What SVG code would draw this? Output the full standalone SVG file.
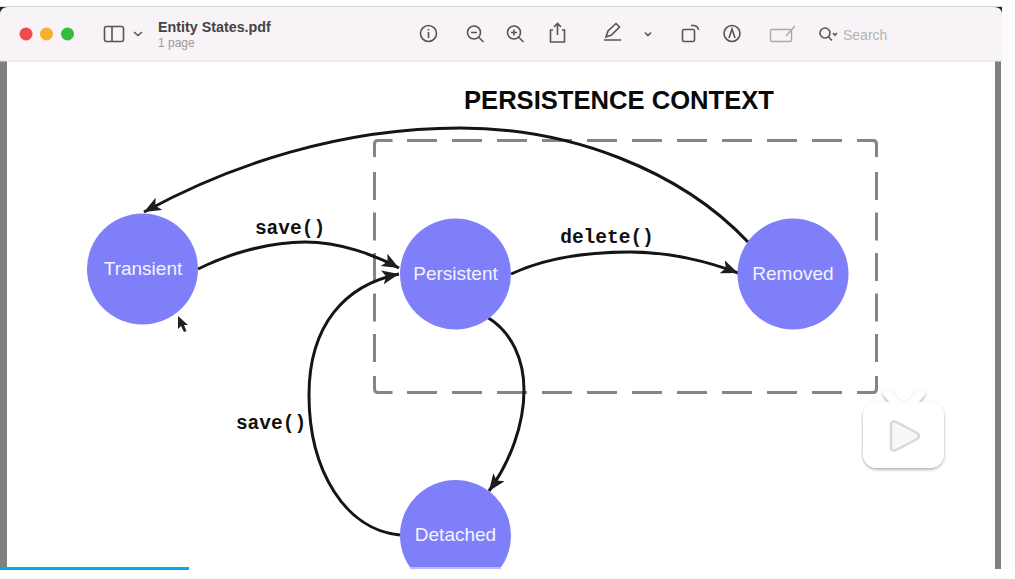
<svg xmlns="http://www.w3.org/2000/svg" width="1015" height="579" viewBox="0 0 1015 579">
<style>
.node{fill:#7f7ffa}
.nl{font:19px "Liberation Sans",Arial,sans-serif;fill:#f4f4ff;text-anchor:middle}
.el{font:bold 19.5px "Liberation Mono","Courier New",monospace;fill:#111;text-anchor:middle}
.c{fill:none;stroke:#151515;stroke-width:3}
.ic{fill:none;stroke:#555;stroke-width:1.6}
.d{fill:none;stroke:#858585;stroke-width:3}
</style>
<defs>
<marker id="a" markerUnits="userSpaceOnUse" markerWidth="20" markerHeight="16" refX="17" refY="7" orient="auto"><path d="M0 0L17 7L0 14L4 7Z" fill="#1e1e1e"/></marker>
<filter id="s" x="-20%" y="-20%" width="140%" height="140%"><feDropShadow dx="0" dy="1.500" stdDeviation="1.500" flood-color="#000" flood-opacity=".35"/></filter>
</defs>
<rect width="1015" height="579" fill="#fff"/>
<rect x="0" y="60" width="7" height="509" fill="#808080"/>
<rect x="995" y="60" width="6" height="509" fill="#808080"/>
<rect x="1001" y="0" width="14" height="579" fill="#fbfbfb"/>
<g id="toolbar">
<path d="M0 6.500H1002" stroke="#d8d8d8"/>
<path d="M0 7H8L0 15ZM1002 7H994L1002 15Z" fill="#222"/>
<path d="M0 15Q0 7 8 7H994Q1002 7 1002 15V61H0Z" fill="#f7f3f6"/>
<path d="M0 61H1002" stroke="#e4e0e3"/>
<circle cx="26" cy="34" r="6.500" fill="#ee4b4b"/><circle cx="46.500" cy="34" r="6.500" fill="#f7b02c"/><circle cx="67.500" cy="34" r="6.500" fill="#33bd3f"/>
<rect x="104.500" y="26.500" width="19" height="15" rx="2" class="ic"/><path class="ic" d="M112 27V41M134 32l4 3.500 4-3.500"/>
<text x="158" y="32" font-family="Liberation Sans,Arial,sans-serif" font-size="14.300" font-weight="bold" fill="#444">Entity States.pdf</text>
<text x="158" y="47" font-family="Liberation Sans,Arial,sans-serif" font-size="12" fill="#9a9a9a">1 page</text>
<circle cx="428.500" cy="33.500" r="8" class="ic"/><path class="ic" d="M428.500 32V38M428.500 29V30.500"/>
<circle cx="474" cy="32.500" r="6.500" class="ic"/><path class="ic" d="M471 32.500H477M479 37.500L483.500 42"/>
<circle cx="514" cy="32.500" r="6.500" class="ic"/><path class="ic" d="M511 32.500H517M514 29.500V35.500M519 37.500L523.500 42"/>
<path class="ic" d="M553 30H550.500V42H564.500V30H562M557.500 35V24M554 27L557.500 23.500 561 27"/>
<path class="ic" d="M604 40H621M606 37L608 31 616 23.500 619.500 27 611.500 35Z"/>
<path class="ic" d="M645 32.500l3 3 3-3"/>
<rect x="682.500" y="29.500" width="12" height="12" rx="1.500" class="ic"/><path class="ic" d="M691 25.500H694Q698 26 698.500 30"/>
<circle cx="732" cy="33.500" r="8" class="ic"/><path class="ic" d="M729 38L732 29 735 38"/>
<rect x="770.500" y="29.500" width="21" height="12" rx="1.500" fill="none" stroke="#aaa" stroke-width="1.400"/><path d="M786 36L795 26" stroke="#aaa" stroke-width="1.400"/>
<circle cx="825" cy="33" r="5" class="ic"/><path class="ic" d="M828.500 37L832 40.500M833 33l2 2 2-2"/>
<text x="843" y="40" font-family="Liberation Sans,Arial,sans-serif" font-size="14" fill="#b4b4b4">Search</text>
</g>
<text x="619" y="109" font-family="Liberation Sans,Arial,sans-serif" font-size="25.600" font-weight="bold" fill="#0a0a0a" text-anchor="middle">PERSISTENCE CONTEXT</text>
<g id="persistence-context">
<path class="d" d="M374.500 157V144Q374.500 140.500 378 140.500H392.500M857 140.500H873Q876.500 140.500 876.500 144V157M374.500 376V388.500Q374.500 392.500 378 392.500H392.500M857 392.500H873Q876.500 392.500 876.500 388.500V376"/>
<path class="d" stroke-dasharray="30 15" d="M407 140.500H845M407 392.500H845"/>
<path class="d" stroke-dasharray="28 12.500" d="M374.500 172V365M876.500 172V365"/>
</g>
<g id="connectors">
<path class="c" marker-end="url(#a)" d="M748 242C680 170 570 128 460 128C340 128 230 165 144 212"/>
<path class="c" marker-end="url(#a)" d="M198 269C230 253 270 242 305 242C340 242 375 255 399 268"/>
<path class="c" marker-end="url(#a)" d="M511 274C545 258 590 252 630 252C670 252 710 262 738 273"/>
<path class="c" marker-end="url(#a)" d="M487 317C512 332 524 360 524 390C524 425 510 462 489 491"/>
<path class="c" marker-end="url(#a)" d="M400 535C345 530 309 470 309 395C309 325 345 285 399 274"/>
</g>
<text class="el" x="290" y="234">save()</text>
<text class="el" x="607" y="243">delete()</text>
<text class="el" x="271" y="429">save()</text>
<g id="transient"><circle class="node" cx="142.500" cy="269" r="55.500"/><text class="nl" x="143" y="275">Transient</text></g>
<g id="persistent"><circle class="node" cx="455.500" cy="274" r="55.500"/><text class="nl" x="455.500" y="280">Persistent</text></g>
<g id="removed"><circle class="node" cx="793" cy="274" r="55.500"/><text class="nl" x="793" y="280">Removed</text></g>
<g id="detached"><circle class="node" cx="455.500" cy="535.500" r="55.500"/><text class="nl" x="455.500" y="541">Detached</text></g>
<path id="cursor" d="M178 316L178 329 181 326 184 332 186.500 331 184 325 188 325Z" fill="#222"/>
<rect x="0" y="569" width="1015" height="10" fill="#fff"/>
<rect x="410" y="567" width="91" height="2" fill="#bbbbfd"/>
<rect x="0" y="567" width="189" height="3" fill="#00aeec"/>
<g id="play-badge" filter="url(#s)">
<path d="M896 403L887 393M912 403L921 393" stroke="#fff" stroke-width="8" stroke-linecap="round"/>
<rect x="863" y="402" width="81" height="66" rx="14" fill="#fff"/>
</g>
<path d="M891 425Q891 420 896 422L917 433Q921 436 917 439L896 450Q891 452 891 447Z" fill="#f8f8f8" stroke="#d8d8d8" stroke-width="2.500"/>
</svg>
